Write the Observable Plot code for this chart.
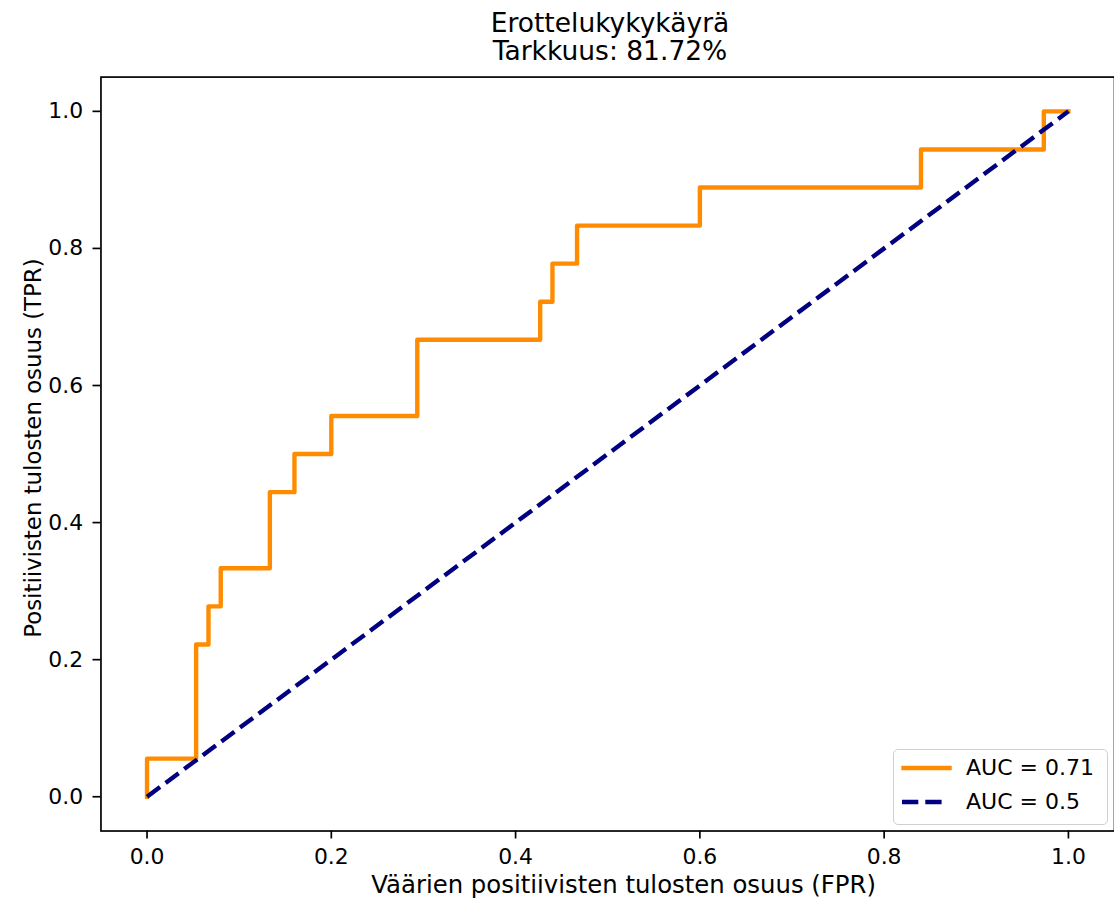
<!DOCTYPE html>
<html><head><meta charset="utf-8">
<script src="https://cdn.jsdelivr.net/npm/d3@7"></script>
<script src="https://cdn.jsdelivr.net/npm/@observablehq/plot@0.6"></script>
<style>
html,body{margin:0;padding:0;background:#fff;overflow:hidden;width:1114px;height:905px;}
#wrap{position:relative;width:1114px;height:905px;overflow:hidden;font-family:"DejaVu Sans",sans-serif;color:#000;}
#title{position:absolute;left:0;top:9px;width:1220px;text-align:center;font-size:26.5px;line-height:28px;}
#chart{position:absolute;left:0;top:0;}
#chart svg{display:block;}
#legend{position:absolute;left:893px;top:749px;width:215px;height:76px;border:1.5px solid #d0d0d0;border-radius:5px;background:rgba(255,255,255,0.8);box-sizing:border-box;}
#legend .row{position:absolute;left:0;height:30px;width:100%;font-size:22px;}
#legend svg{position:absolute;left:0;top:0;}
#legend span{position:absolute;left:72px;white-space:nowrap;}
</style>
</head>
<body>
<div id="wrap">
  <div id="chart"></div>
  <div id="title"></div>
  <div id="legend"></div>
</div>
<script>
const titleLines = ["Erottelukykykäyrä", "Tarkkuus: 81.72%"];
const xLabel = "Väärien positiivisten tulosten osuus (FPR)";
const yLabel = "Positiivisten tulosten osuus (TPR)";
const tickValues = [0, 0.2, 0.4, 0.6, 0.8, 1.0];
// ROC curve points
const fpr = [0, 0, 0.0533, 0.0533, 0.0667, 0.0667, 0.08, 0.08, 0.1333, 0.1333, 0.16, 0.16, 0.2, 0.2, 0.2933, 0.2933, 0.4267, 0.4267, 0.44, 0.44, 0.4667, 0.4667, 0.6, 0.6, 0.84, 0.84, 0.9733, 0.9733, 1];
const tpr = [0, 0.0556, 0.0556, 0.2222, 0.2222, 0.2778, 0.2778, 0.3333, 0.3333, 0.4444, 0.4444, 0.5, 0.5, 0.5556, 0.5556, 0.6667, 0.6667, 0.7222, 0.7222, 0.7778, 0.7778, 0.8333, 0.8333, 0.8889, 0.8889, 0.9444, 0.9444, 1, 1];
const refX = [0, 1];
const refY = [0, 1];
const seriesNames = ["AUC = 0.71", "AUC = 0.5"];
const seriesColors = ["#ff8c00", "#000080"];

document.getElementById("title").innerHTML = titleLines.map(t => `<div>${t}</div>`).join("");

const roc = fpr.map((x, i) => ({x, y: tpr[i]}));
const diag = refX.map((x, i) => ({x, y: refY[i]}));

const chart = Plot.plot({
  width: 1120,
  height: 905,
  marginLeft: 101,
  marginRight: 0,
  marginTop: 77,
  marginBottom: 70,
  style: {fontFamily: "DejaVu Sans", fontSize: "22px", color: "#000", background: "transparent"},
  x: {domain: [-0.05, 1.05]},
  y: {domain: [-0.05, 1.05]},
  marks: [
    Plot.line(roc, {x: "x", y: "y", stroke: seriesColors[0], strokeWidth: 4.4, strokeLinecap: "square", strokeLinejoin: "round"}),
    Plot.line(diag, {x: "x", y: "y", stroke: seriesColors[1], strokeWidth: 4.4, strokeDasharray: "16.3,7", strokeLinecap: "butt"}),
    Plot.frame({stroke: "#000", strokeWidth: 1.7}),
    Plot.axisX({ticks: tickValues, tickFormat: d3.format(".1f"), tickSize: 8, tickPadding: 10, fontSize: 22, strokeWidth: 1.7, label: null}),
    Plot.axisY({ticks: tickValues, tickFormat: d3.format(".1f"), tickSize: 8, tickPadding: 10, fontSize: 22, strokeWidth: 1.7, label: null}),
    Plot.text([xLabel], {frameAnchor: "bottom", dx: 16, dy: 62, lineAnchor: "bottom", textAnchor: "middle", fontSize: 24.5, fill: "#000"}),
    Plot.text([yLabel], {frameAnchor: "left", dx: -60, dy: -6, rotate: -90, lineAnchor: "bottom", textAnchor: "middle", fontSize: 23, fill: "#000"})
  ]
});
document.getElementById("chart").appendChild(chart);

// legend
const legend = document.getElementById("legend");
seriesNames.forEach((name, i) => {
  const row = document.createElement("div");
  row.className = "row";
  row.style.top = (i === 0 ? 3 : 37) + "px";
  const dash = i === 1 ? 'stroke-dasharray="16.3,7" stroke-linecap="butt"' : 'stroke-linecap="square"';
  const x1 = i === 0 ? 9.5 : 8, x2 = i === 0 ? 55.5 : 52;
  row.innerHTML = `<svg width="70" height="30"><line x1="${x1}" x2="${x2}" y1="15" y2="15" stroke="${seriesColors[i]}" stroke-width="4.4" ${dash}/></svg><span style="top:0px;line-height:30px">${name}</span>`;
  legend.appendChild(row);
});
</script>
</body></html>
